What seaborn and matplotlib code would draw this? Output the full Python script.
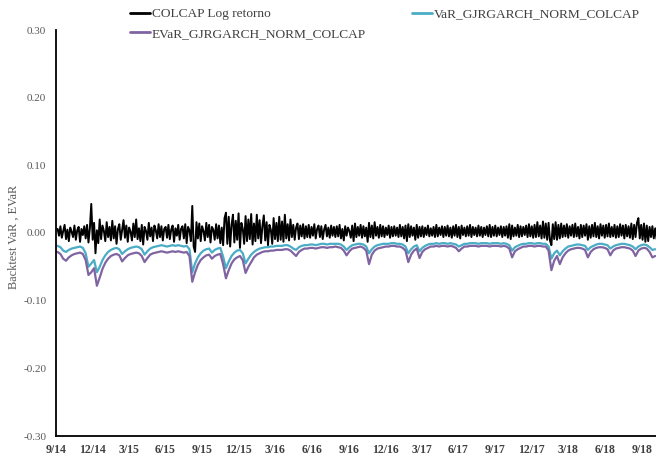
import matplotlib
matplotlib.use("Agg")
import matplotlib.pyplot as plt
from matplotlib.lines import Line2D
import seaborn as sns
import pandas as pd

# ---------------- data (readings from the picture) ----------------
# COLCAP log return, read about twice a week
ret_start = "2014-09-05"
colcap_ret = [
    0.006, -0.004, 0.010, -0.007, 0.003, 0.012, -0.009, 0.005, -0.012, 0.008, 0.002, -0.006, 0.011, -0.010, 0.004, 0.009, -0.013, 0.006, -0.003, 0.010,
    -0.008, 0.012, -0.014, 0.007, 0.043, -0.010, 0.015, -0.030, 0.004, -0.015, 0.020, -0.009, 0.011, 0.003, -0.012, 0.016, -0.006, 0.009, -0.011, 0.018,
    -0.008, 0.010, -0.016, 0.006, 0.013, -0.010, 0.004, 0.019, -0.007, 0.011, -0.013, 0.008, 0.002, -0.011, 0.014, -0.006, 0.020, -0.009, 0.007, -0.012,
    0.012, -0.017, 0.009, 0.003, -0.010, 0.015, -0.005, 0.008, -0.012, 0.011, 0.004, -0.008, 0.013, -0.006, 0.010, -0.011, 0.006, 0.009, -0.007, 0.012,
    -0.009, 0.005, 0.011, -0.013, 0.007, -0.004, 0.012, -0.010, 0.006, 0.010, -0.008, 0.013, -0.015, 0.009, 0.004, -0.012, 0.040, -0.020, -0.028, 0.016,
    -0.008, 0.014, -0.012, 0.010, 0.003, -0.011, 0.015, -0.006, 0.012, -0.014, 0.009, 0.005, -0.010, 0.013, -0.008, 0.011, -0.015, 0.008, -0.018, 0.022,
    0.030, -0.016, 0.024, -0.020, 0.012, 0.027, -0.014, 0.018, -0.010, 0.029, -0.022, 0.015, 0.006, -0.016, 0.025, -0.012, 0.020, -0.009, 0.028, -0.017,
    0.014, -0.012, 0.027, -0.008, 0.019, -0.015, 0.010, 0.026, -0.011, 0.016, -0.018, 0.012, 0.005, -0.016, 0.022, -0.009, 0.015, -0.012, 0.024, -0.010,
    0.017, -0.013, 0.027, -0.008, 0.013, -0.011, 0.020, -0.006, 0.012, -0.010, 0.008, 0.014, -0.009, 0.011, -0.005, 0.013, -0.008, 0.010, -0.006, 0.012,
    -0.007, 0.009, -0.004, 0.013, -0.008, 0.006, 0.011, -0.006, 0.010, -0.009, 0.005, 0.012, -0.005, 0.008, -0.007, 0.011, -0.004, 0.009, -0.006, 0.010,
    -0.005, 0.012, -0.008, 0.006, -0.011, 0.010, -0.004, 0.008, 0.003, -0.007, 0.011, -0.012, 0.014, -0.006, 0.009, -0.004, 0.012, -0.007, 0.010, -0.005,
    0.008, -0.013, 0.015, -0.006, 0.011, -0.008, 0.016, -0.004, 0.009, -0.007, 0.012, -0.005, 0.010, -0.006, 0.008, -0.003, 0.011, -0.007, 0.009, -0.005,
    0.010, -0.004, 0.008, -0.006, 0.012, -0.005, 0.009, -0.008, 0.011, -0.012, 0.013, -0.006, 0.010, -0.004, 0.008, -0.010, 0.012, -0.007, 0.009, -0.005,
    0.010, -0.006, 0.008, -0.003, 0.011, -0.005, 0.007, -0.004, 0.009, -0.006, 0.012, -0.005, 0.008, -0.003, 0.010, -0.006, 0.009, -0.004, 0.011, -0.005,
    0.008, -0.007, 0.010, -0.004, 0.012, -0.006, 0.009, -0.008, 0.011, -0.003, 0.008, -0.005, 0.010, -0.004, 0.012, -0.006, 0.009, -0.003, 0.008, -0.005,
    0.011, -0.004, 0.009, -0.006, 0.008, -0.003, 0.010, -0.005, 0.012, -0.006, 0.009, -0.004, 0.011, -0.005, 0.008, -0.003, 0.010, -0.006, 0.009, -0.004,
    0.010, -0.007, 0.013, -0.009, 0.011, -0.005, 0.008, -0.004, 0.012, -0.006, 0.010, -0.005, 0.009, -0.003, 0.011, -0.006, 0.013, -0.005, 0.010, -0.007,
    0.012, -0.006, 0.016, -0.005, 0.011, -0.008, 0.017, -0.007, 0.014, -0.010, 0.015, -0.011, -0.018, 0.013, -0.009, 0.016, -0.010, 0.012, -0.008, 0.014,
    -0.006, 0.011, -0.005, 0.013, -0.007, 0.010, -0.004, 0.012, -0.006, 0.014, -0.005, 0.009, -0.008, 0.012, -0.006, 0.011, -0.004, 0.013, -0.010, 0.010,
    -0.007, 0.012, -0.005, 0.015, -0.006, 0.010, -0.008, 0.013, -0.004, 0.011, -0.007, 0.012, -0.005, 0.014, -0.006, 0.009, -0.005, 0.012, -0.007, 0.010,
    -0.006, 0.013, -0.004, 0.011, -0.008, 0.012, -0.005, 0.010, -0.007, 0.014, -0.009, 0.012, -0.006, 0.015, 0.022, -0.008, 0.012, -0.010, 0.014, -0.013,
    0.011, -0.012, 0.009, -0.006, 0.010, -0.008, 0.007, -0.009,
]

# VaR and EVaR, read once a week
risk_start = "2014-09-05"
var_gjr = [
    -0.019, -0.021, -0.026, -0.028, -0.025, -0.023, -0.022, -0.021, -0.020, -0.022,
    -0.030, -0.050, -0.045, -0.040, -0.058, -0.050, -0.040, -0.033, -0.028, -0.025,
    -0.023, -0.022, -0.024, -0.031, -0.027, -0.024, -0.022, -0.021, -0.020, -0.021,
    -0.024, -0.032, -0.027, -0.023, -0.021, -0.020, -0.019, -0.018, -0.019, -0.020,
    -0.019, -0.018, -0.019, -0.018, -0.019, -0.020, -0.019, -0.024, -0.058, -0.045,
    -0.036, -0.030, -0.026, -0.024, -0.023, -0.029, -0.025, -0.023, -0.022, -0.035,
    -0.052, -0.042, -0.034, -0.029, -0.026, -0.025, -0.030, -0.045, -0.038, -0.032,
    -0.028, -0.025, -0.023, -0.022, -0.021, -0.021, -0.020, -0.020, -0.019, -0.019,
    -0.019, -0.018, -0.018, -0.020, -0.023, -0.025, -0.021, -0.019, -0.018, -0.018,
    -0.017, -0.017, -0.018, -0.017, -0.016, -0.016, -0.017, -0.016, -0.016, -0.016,
    -0.016, -0.017, -0.020, -0.025, -0.021, -0.018, -0.017, -0.016, -0.016, -0.017,
    -0.020, -0.030, -0.024, -0.020, -0.018, -0.017, -0.016, -0.016, -0.016, -0.015,
    -0.015, -0.016, -0.016, -0.017, -0.020, -0.030, -0.024, -0.020, -0.018, -0.027,
    -0.022, -0.019, -0.017, -0.016, -0.016, -0.015, -0.016, -0.015, -0.015, -0.016,
    -0.015, -0.016, -0.017, -0.020, -0.018, -0.016, -0.016, -0.015, -0.015, -0.015,
    -0.016, -0.015, -0.015, -0.015, -0.016, -0.015, -0.015, -0.015, -0.016, -0.015,
    -0.016, -0.018, -0.026, -0.021, -0.019, -0.017, -0.016, -0.016, -0.015, -0.015,
    -0.016, -0.015, -0.015, -0.016, -0.016, -0.020, -0.038, -0.030, -0.026, -0.033,
    -0.027, -0.023, -0.020, -0.019, -0.018, -0.017, -0.017, -0.018, -0.019, -0.025,
    -0.021, -0.019, -0.017, -0.016, -0.016, -0.017, -0.018, -0.023, -0.020, -0.018,
    -0.017, -0.016, -0.016, -0.017, -0.018, -0.020, -0.024, -0.020, -0.018, -0.017,
    -0.018, -0.021, -0.025, -0.024,
]

evar_gjr = [
    -0.028, -0.031, -0.038, -0.041, -0.036, -0.033, -0.031, -0.030, -0.029, -0.031,
    -0.040, -0.062, -0.058, -0.052, -0.078, -0.066, -0.053, -0.044, -0.038, -0.034,
    -0.032, -0.031, -0.033, -0.042, -0.037, -0.033, -0.031, -0.030, -0.029, -0.030,
    -0.034, -0.043, -0.037, -0.032, -0.030, -0.029, -0.028, -0.027, -0.028, -0.029,
    -0.028, -0.027, -0.028, -0.027, -0.028, -0.029, -0.028, -0.034, -0.072, -0.058,
    -0.047, -0.040, -0.036, -0.033, -0.032, -0.038, -0.034, -0.032, -0.031, -0.046,
    -0.067, -0.055, -0.045, -0.039, -0.036, -0.034, -0.040, -0.059, -0.050, -0.043,
    -0.036, -0.032, -0.030, -0.028, -0.027, -0.027, -0.026, -0.026, -0.025, -0.025,
    -0.025, -0.024, -0.024, -0.026, -0.030, -0.034, -0.028, -0.025, -0.023, -0.023,
    -0.022, -0.022, -0.023, -0.022, -0.021, -0.021, -0.022, -0.021, -0.021, -0.020,
    -0.021, -0.022, -0.026, -0.033, -0.027, -0.023, -0.022, -0.021, -0.020, -0.022,
    -0.026, -0.046, -0.032, -0.026, -0.023, -0.022, -0.021, -0.020, -0.020, -0.019,
    -0.019, -0.020, -0.020, -0.022, -0.026, -0.043, -0.032, -0.026, -0.023, -0.037,
    -0.028, -0.024, -0.022, -0.020, -0.020, -0.019, -0.020, -0.019, -0.019, -0.020,
    -0.019, -0.020, -0.022, -0.027, -0.023, -0.020, -0.020, -0.019, -0.019, -0.019,
    -0.020, -0.019, -0.019, -0.019, -0.020, -0.019, -0.019, -0.019, -0.020, -0.019,
    -0.020, -0.023, -0.036, -0.027, -0.024, -0.022, -0.020, -0.020, -0.019, -0.019,
    -0.020, -0.019, -0.019, -0.020, -0.020, -0.026, -0.055, -0.041, -0.034, -0.046,
    -0.036, -0.030, -0.026, -0.024, -0.023, -0.022, -0.022, -0.023, -0.025, -0.036,
    -0.028, -0.024, -0.022, -0.021, -0.021, -0.022, -0.024, -0.033, -0.026, -0.023,
    -0.022, -0.021, -0.021, -0.022, -0.023, -0.026, -0.034, -0.026, -0.023, -0.022,
    -0.023, -0.028, -0.036, -0.034,
]

series_names = ["COLCAP Log retorno", "VaR_GJRGARCH_NORM_COLCAP", "EVaR_GJRGARCH_NORM_COLCAP"]
series_colors = ["#000000", "#4BACC6", "#8064A2"]

tick_dates = ["2014-09-01", "2014-12-01", "2015-03-01", "2015-06-01", "2015-09-01",
              "2015-12-01", "2016-03-01", "2016-06-01", "2016-09-01", "2016-12-01",
              "2017-03-01", "2017-06-01", "2017-09-01", "2017-12-01", "2018-03-01",
              "2018-06-01", "2018-09-01"]
tick_labels = ["9/14", "12/14", "3/15", "6/15", "9/15", "12/15", "3/16", "6/16", "9/16",
               "12/16", "3/17", "6/17", "9/17", "12/17", "3/18", "6/18", "9/18"]
y_ticks = [-0.30, -0.20, -0.10, 0.00, 0.10, 0.20, 0.30]
y_label = "Backtest VaR , EVaR"

# ---------------- build ----------------
ret_df = pd.DataFrame({"Fecha": pd.date_range(ret_start, periods=len(colcap_ret), freq="84h"),
                       "Valor": colcap_ret})
risk_dates = pd.date_range(risk_start, periods=len(var_gjr), freq="7D")
risk_df = pd.DataFrame({"Fecha": risk_dates,
                        series_names[1]: var_gjr,
                        series_names[2]: evar_gjr})
risk_long = risk_df.melt(id_vars="Fecha", var_name="Serie", value_name="Valor")

sns.set_theme(style="white")
plt.rcParams["font.family"] = ["Liberation Serif", "DejaVu Serif"]

fig = plt.figure(figsize=(6.56, 4.59), dpi=100)
ax = fig.add_axes([56 / 656, 23 / 459, 600 / 656, 406 / 459])

sns.lineplot(data=ret_df, x="Fecha", y="Valor", color=series_colors[0],
             linewidth=1.4, ax=ax, legend=False)
sns.lineplot(data=risk_long, x="Fecha", y="Valor", hue="Serie", hue_order=series_names[1:],
             palette=dict(zip(series_names[1:], series_colors[1:])), linewidth=1.6,
             ax=ax, legend=False)

ax.set_xlim(pd.Timestamp("2014-09-01"), pd.Timestamp("2018-10-07"))
ax.set_ylim(-0.30, 0.30)
ax.set_yticks(y_ticks)
ax.set_yticklabels([f"{v:.2f}" for v in y_ticks], fontsize=8, color="#595959")
ax.set_xticks(pd.to_datetime(tick_dates))
ax.set_xticklabels(tick_labels, fontsize=8.5, fontweight="bold", color="#404040")
ax.tick_params(axis="y", length=0, pad=7)
ax.tick_params(axis="x", length=0, pad=6)
ax.set_xlabel("")
ax.set_ylabel(y_label, fontsize=8.8, color="#595959")
ax.yaxis.set_label_coords(-0.061, 0.49)

for s in ["top", "right"]:
    ax.spines[s].set_visible(False)
for s in ["left", "bottom"]:
    ax.spines[s].set_color("black")
    ax.spines[s].set_linewidth(1.3)
ax.grid(False)

handles = [Line2D([0], [0], color=c, lw=2) for c in series_colors]
order = [0, 2, 1]
fig.legend([handles[i] for i in order], [series_names[i] for i in order],
           ncol=2, loc="center", bbox_to_anchor=(385 / 656, 1 - 24 / 459),
           frameon=False, fontsize=9.6, handlelength=1.5, handletextpad=0.1,
           columnspacing=3.5, labelspacing=0.55, labelcolor="#404040",
           borderpad=0.1)

fig.savefig("out.png", dpi=100)
